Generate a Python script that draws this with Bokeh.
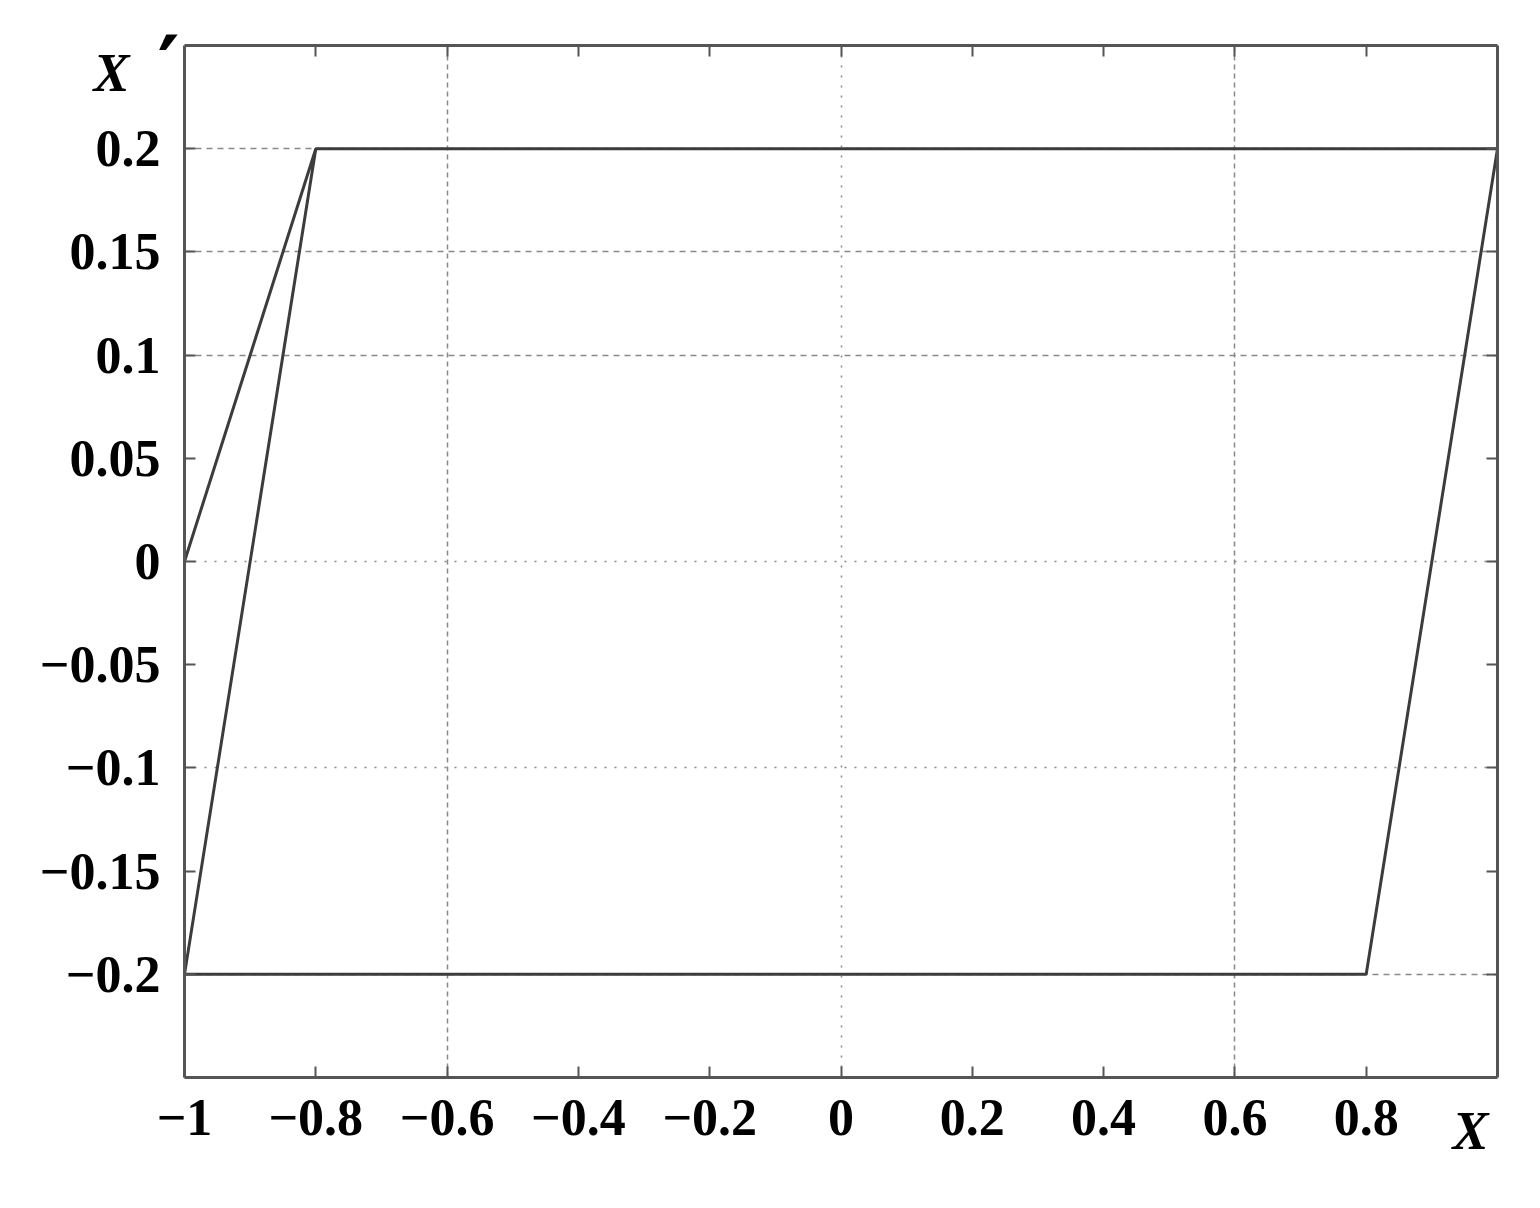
from bokeh.plotting import figure
from bokeh.models import Range1d, LinearAxis, FixedTicker, Grid, Label
from bokeh.embed import file_html
from bokeh.resources import INLINE

# ---- data ----
loop_x = [-1.0, -0.8, 1.0, 0.8, -1.0, -0.8]
loop_y = [0.0, 0.2, 0.2, -0.2, -0.2, 0.2]

x_ticks = [-1.0, -0.8, -0.6, -0.4, -0.2, 0.0, 0.2, 0.4, 0.6, 0.8]
x_tick_labels = ["\u22121", "\u22120.8", "\u22120.6", "\u22120.4", "\u22120.2", "0", "0.2", "0.4", "0.6", "0.8"]
y_ticks = [0.2, 0.15, 0.1, 0.05, 0.0, -0.05, -0.1, -0.15, -0.2]
y_tick_labels = ["0.2", "0.15", "0.1", "0.05", "0", "\u22120.05", "\u22120.1", "\u22120.15", "\u22120.2"]
top_ticks = [-0.8, -0.6, -0.4, -0.2, 0.0, 0.2, 0.4, 0.6, 0.8]

xgrid_dashed = [-0.6, 0.6]
xgrid_dotted = [0.0]
ygrid_dashed = [0.2, 0.15, 0.1, -0.2]
ygrid_dotted = [0.0, -0.1]

FONT = "Liberation Serif"
AX = "#555555"

p = figure(width=1532, height=1198, output_backend="svg", toolbar_location=None,
           x_range=Range1d(-1, 1), y_range=Range1d(-0.25, 0.25),
           min_border_left=184, min_border_right=35, min_border_top=45, min_border_bottom=121,
           x_axis_location=None, y_axis_location=None)
p.outline_line_color = None
p.background_fill_color = "white"
p.border_fill_color = "white"
p.xgrid.visible = False
p.ygrid.visible = False


def style_axis(ax, ticks, labels=None):
    ax.ticker = FixedTicker(ticks=ticks)
    ax.axis_line_color = AX
    ax.axis_line_width = 3
    ax.major_tick_line_color = AX
    ax.major_tick_line_width = 2
    ax.major_tick_in = 11
    ax.major_tick_out = 0
    ax.minor_tick_line_color = None
    if labels is None:
        ax.major_label_text_font_size = "0px"
        ax.major_label_standoff = 0
        ax.major_label_overrides = {t: "" for t in ticks}
    else:
        ax.major_label_overrides = {t: l for t, l in zip(ticks, labels)}
        ax.major_label_text_font = FONT
        ax.major_label_text_font_style = "bold"
        ax.major_label_text_font_size = "52px"
        ax.major_label_text_color = "black"


bottom = LinearAxis()
style_axis(bottom, x_ticks, x_tick_labels)
bottom.major_label_standoff = 22
p.add_layout(bottom, "below")

left = LinearAxis()
style_axis(left, y_ticks, y_tick_labels)
left.major_label_standoff = 24
p.add_layout(left, "left")

top = LinearAxis()
style_axis(top, top_ticks)
p.add_layout(top, "above")

right = LinearAxis()
style_axis(right, y_ticks)
p.add_layout(right, "right")

# grids
for ticks, dim, dash in [(xgrid_dashed, 0, "5 4"), (xgrid_dotted, 0, "2 8"),
                         (ygrid_dashed, 1, "6 5"), (ygrid_dotted, 1, "2 8")]:
    g = Grid(dimension=dim, ticker=FixedTicker(ticks=ticks))
    g.grid_line_color = "#888888"
    g.grid_line_width = 1.5
    g.grid_line_dash = dash
    p.add_layout(g)

# curve
p.line(loop_x, loop_y, line_color="#3c3c3c", line_width=3)

# axis name labels placed in side panels (outside the clipped frame)
p.add_layout(Label(x=93, y=1005, x_units="screen", y_units="screen", text="X", text_font=FONT,
                   text_font_style="bold italic", text_font_size="54px", text_color="black",
                   text_baseline="alphabetic"), "left")
p.add_layout(Label(x=-1329, y=1011, x_units="screen", y_units="screen", text="\u2032",
                   text_font="DejaVu Sans", text_font_style="bold", text_font_size="84px",
                   text_color="black", text_align="center", text_baseline="middle"), "right")
p.add_layout(Label(x=1268, y=67, x_units="screen", y_units="screen", text="X", text_font=FONT,
                   text_font_style="bold italic", text_font_size="54px", text_color="black",
                   text_baseline="alphabetic"), "below")

open("out.html", "w").write(file_html(p, INLINE))
